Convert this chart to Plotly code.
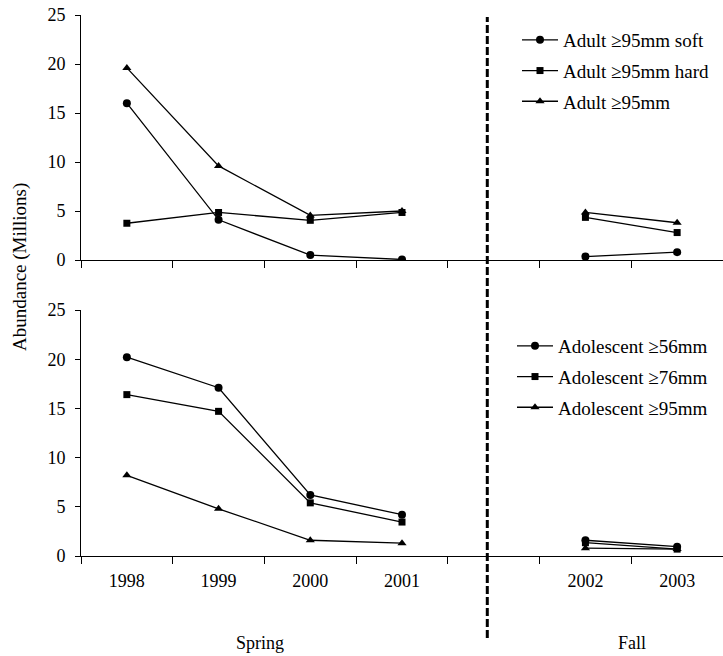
import plotly.graph_objects as go

# ---- data ----
years = ["1998", "1999", "2000", "2001", " ", "2002", "2003"]

adult_soft = [16.0, 4.1, 0.5, 0.05, None, 0.35, 0.8]
adult_hard = [3.75, 4.85, 4.05, 4.85, None, 4.35, 2.8]
adult_all = [19.6, 9.6, 4.55, 5.0, None, 4.85, 3.8]

adol_56 = [20.2, 17.1, 6.2, 4.2, None, 1.6, 0.95]
adol_76 = [16.4, 14.7, 5.4, 3.45, None, 1.35, 0.7]
adol_95 = [8.2, 4.8, 1.6, 1.3, None, 0.8, 0.7]

top_names = ["Adult ≥95mm soft", "Adult ≥95mm hard", "Adult ≥95mm"]
bottom_names = ["Adolescent ≥56mm", "Adolescent ≥76mm", "Adolescent ≥95mm"]
symbols = ["circle", "square", "triangle-up"]

FONT = "'Liberation Serif', 'Times New Roman', serif"
W, H = 723, 656
ML, MR, MT, MB = 81, 0, 15, 100
PW, PH = W - ML - MR, H - MT - MB


def py(pix):  # pixel row -> paper y
    return (H - MB - pix) / PH


def px(pix):  # pixel column -> paper x
    return (pix - ML) / PW


fig = go.Figure()

for i, (vals, name) in enumerate(zip([adult_soft, adult_hard, adult_all], top_names)):
    fig.add_trace(go.Scatter(
        x=years, y=vals, mode="lines+markers", name=name,
        marker=dict(symbol=symbols[i], size=8 if i != 1 else 7, color="black"),
        line=dict(color="black", width=1.3),
        xaxis="x", yaxis="y", legend="legend", legendgroup=f"t{i}",
        connectgaps=False,
    ))

for i, (vals, name) in enumerate(zip([adol_56, adol_76, adol_95], bottom_names)):
    fig.add_trace(go.Scatter(
        x=years, y=vals, mode="lines+markers", name=name,
        marker=dict(symbol=symbols[i], size=8 if i != 1 else 7, color="black"),
        line=dict(color="black", width=1.3),
        xaxis="x2", yaxis="y2", legend="legend2", legendgroup=f"b{i}",
        connectgaps=False,
    ))

xcommon = dict(
    type="category", categoryorder="array", categoryarray=years,
    range=[-0.5, 6.5], tickson="boundaries", ticks="outside", ticklen=7,
    tickcolor="black", showline=True, linecolor="black", linewidth=1,
    showgrid=False, zeroline=False, domain=[0, 1],
    tickfont=dict(family=FONT, size=18, color="black"),
)
ycommon = dict(
    range=[0, 25], dtick=5, ticks="outside", ticklen=5, tickcolor="black",
    showline=True, linecolor="black", linewidth=1, showgrid=False,
    zeroline=False, tickfont=dict(family=FONT, size=18, color="black"),
    ticklabelstandoff=6,
)

legend_common = dict(
    font=dict(family=FONT, size=19, color="black"),
    bgcolor="rgba(0,0,0,0)", borderwidth=0, tracegroupgap=3,
    xanchor="left", yanchor="top", itemwidth=36,
)

fig.update_layout(
    width=W, height=H,
    margin=dict(l=ML, r=MR, t=MT, b=MB),
    paper_bgcolor="white", plot_bgcolor="white",
    font=dict(family=FONT, size=18, color="black"),
    xaxis=dict(**xcommon, anchor="y", showticklabels=False),
    xaxis2=dict(**xcommon, anchor="y2", showticklabels=True, ticklabelstandoff=8),
    yaxis=dict(**ycommon, domain=[py(260), 1], anchor="x"),
    yaxis2=dict(**ycommon, domain=[0, py(310)], anchor="x2"),
    legend=dict(**legend_common, x=px(517), y=py(21)),
    legend2=dict(**legend_common, x=px(512), y=py(327)),
    showlegend=True,
    shapes=[dict(
        type="line", xref="x", yref="paper", x0=3.93, x1=3.93,
        y0=py(638), y1=py(17),
        line=dict(color="black", width=3, dash="8px,3px"),
    )],
    annotations=[
        dict(text="Spring", xref="paper", yref="paper", x=px(260), y=py(643),
             showarrow=False, xanchor="center", yanchor="middle",
             font=dict(family=FONT, size=18, color="black")),
        dict(text="Fall", xref="paper", yref="paper", x=px(632), y=py(643),
             showarrow=False, xanchor="center", yanchor="middle",
             font=dict(family=FONT, size=18, color="black")),
        dict(text="Abundance (Millions)", xref="paper", yref="paper",
             x=px(20), y=py(267), textangle=-90, showarrow=False,
             xanchor="center", yanchor="middle",
             font=dict(family=FONT, size=19, color="black")),
    ],
)

fig.write_html("out.html")
